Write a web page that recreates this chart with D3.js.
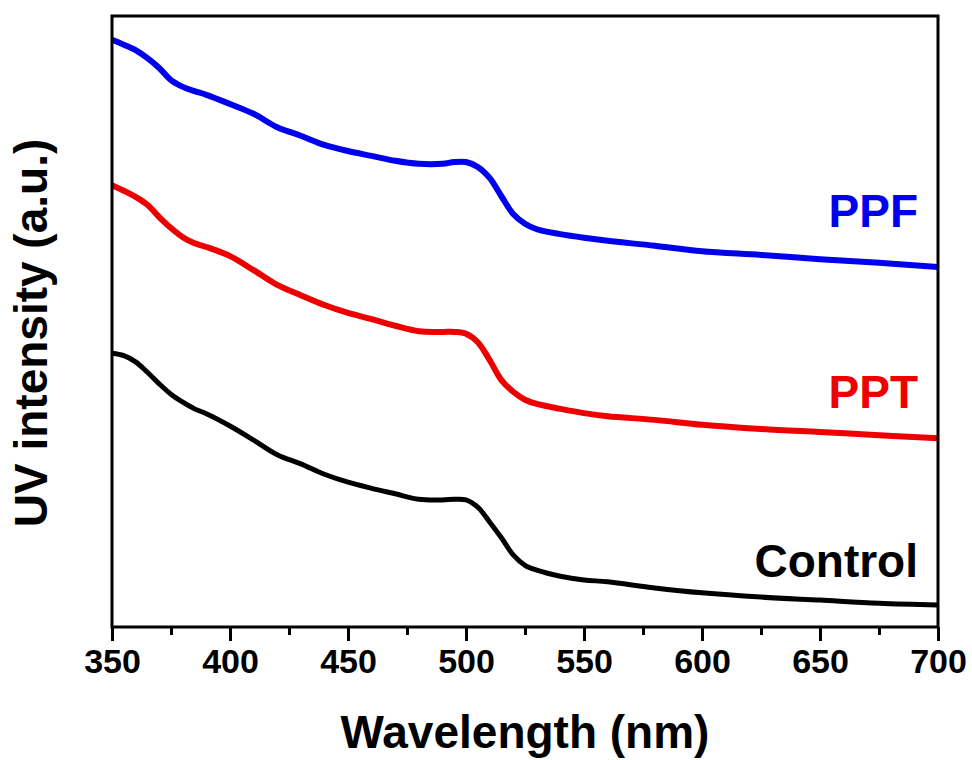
<!DOCTYPE html>
<html>
<head>
<meta charset="utf-8">
<script src="https://cdn.jsdelivr.net/npm/d3@7"></script>
<style>
  body { margin: 0; background: #fff; }
  text { font-family: "Liberation Sans", Arial, sans-serif; font-weight: bold; }
</style>
</head>
<body>
<div id="chart"></div>
<script>
// wavelength grid (nm)
const wavelengths = [350,355,360,365,370,375,380,385,390,400,410,420,430,440,450,460,470,480,490,495,500,505,510,515,520,525,530,540,550,560,580,600,625,650,675,700];

// UV intensity (a.u.)
const ppf = [96.1,95.3,94.4,93.1,91.5,89.5,88.4,87.7,87.1,85.6,84.0,81.8,80.4,78.9,77.9,77.1,76.3,75.8,75.8,76.1,76.1,75.3,73.5,70.5,67.6,66.0,65.1,64.3,63.7,63.2,62.4,61.5,60.9,60.2,59.6,58.9];
const ppt = [72.3,71.4,70.4,69.1,67.1,65.3,63.8,62.8,62.2,60.7,58.4,56.0,54.3,52.7,51.4,50.4,49.3,48.4,48.3,48.3,48.0,46.6,43.7,40.4,38.5,37.2,36.5,35.7,35.0,34.5,33.9,33.1,32.4,31.9,31.4,30.9];
const control = [44.8,44.4,43.4,41.7,39.8,38.1,36.8,35.7,34.9,32.9,30.6,28.2,26.7,25.0,23.7,22.7,21.8,20.9,20.8,20.9,20.8,19.6,17.2,14.6,11.8,10.1,9.3,8.3,7.7,7.4,6.4,5.6,4.9,4.4,3.9,3.6];

const seriesNames = ["PPF", "PPT", "Control"];
const seriesColors = ["#0000ee", "#ee0000", "#000000"];
const labelValues = [65.5, 35.8, 8.2];   // where the name sits (a.u.)
const xTicks = [350,400,450,500,550,600,650,700];
const xMinorTicks = [375,425,475,525,575,625,675];

const width = 972, height = 760;
const margin = {top: 16, right: 34, bottom: 133, left: 112};
const w = width - margin.left - margin.right;
const h = height - margin.top - margin.bottom;

const svg = d3.select("#chart").append("svg")
    .attr("width", width)
    .attr("height", height);

const g = svg.append("g")
    .attr("transform", "translate(" + margin.left + "," + margin.top + ")");

const x = d3.scaleLinear().domain([350, 700]).range([0, w]);
const y = d3.scaleLinear().domain([0, 100]).range([h, 0]);

const series = [ppf, ppt, control].map((vals, i) => ({
    name: seriesNames[i],
    color: seriesColors[i],
    points: wavelengths.map((wl, j) => ({wl: wl, v: vals[j]}))
}));

const line = d3.line()
    .x(d => x(d.wl))
    .y(d => y(d.v))
    .curve(d3.curveCatmullRom.alpha(0.5));

g.append("defs").append("clipPath").attr("id", "clip")
  .append("rect").attr("width", w).attr("height", h);

g.selectAll("path.curve")
  .data(series)
  .enter()
  .append("path")
    .attr("class", "curve")
    .attr("clip-path", "url(#clip)")
    .attr("d", d => line(d.points))
    .attr("fill", "none")
    .attr("stroke", d => d.color)
    .attr("stroke-width", (d, i) => i === 2 ? 5 : 6)
    .attr("stroke-linejoin", "round");

// minor ticks
g.append("g")
    .attr("transform", "translate(0," + h + ")")
    .call(d3.axisBottom(x).tickValues(xMinorTicks).tickSize(8).tickFormat(""))
    .call(a => a.select(".domain").remove())
    .call(a => a.selectAll("line").attr("stroke", "#000").attr("stroke-width", 3));

// major ticks + labels
const xAxis = g.append("g")
    .attr("transform", "translate(0," + h + ")")
    .call(d3.axisBottom(x).tickValues(xTicks).tickSize(14).tickSizeOuter(0).tickPadding(8));
xAxis.select(".domain").remove();
xAxis.selectAll("line").attr("stroke", "#000").attr("stroke-width", 3);
xAxis.selectAll("text")
    .attr("fill", "#000")
    .style("font-size", "34px");

// frame
g.append("rect")
    .attr("width", w)
    .attr("height", h)
    .attr("fill", "none")
    .attr("stroke", "#000")
    .attr("stroke-width", 3);

// series names
g.selectAll("text.name")
  .data(series)
  .enter()
  .append("text")
    .attr("class", "name")
    .attr("x", w - 20)
    .attr("y", (d, i) => y(labelValues[i]))
    .attr("text-anchor", "end")
    .attr("fill", d => d.color)
    .style("font-size", "46px")
    .text(d => d.name);

// axis titles
svg.append("text")
    .attr("x", margin.left + w / 2)
    .attr("y", 748)
    .attr("text-anchor", "middle")
    .style("font-size", "46px")
    .text("Wavelength (nm)");

svg.append("text")
    .attr("transform", "translate(47," + 333 + ") rotate(-90)")
    .attr("text-anchor", "middle")
    .style("font-size", "46px")
    .text("UV intensity (a.u.)");
</script>
</body>
</html>
